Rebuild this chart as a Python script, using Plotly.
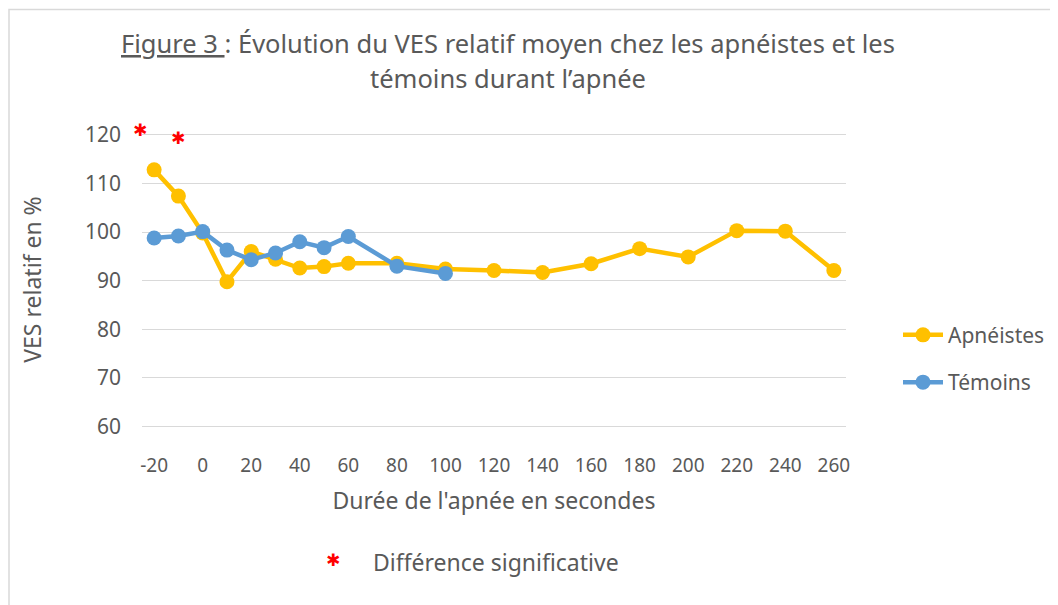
import plotly.graph_objects as go

# ---- data ----
x_apneistes = [-20, -10, 0, 10, 20, 30, 40, 50, 60, 80, 100, 120, 140, 160, 180, 200, 220, 240, 260]
y_apneistes = [112.8, 107.4, 99.8, 89.8, 96.0, 94.4, 92.6, 92.9, 93.6, 93.6, 92.4, 92.1, 91.7, 93.5, 96.6, 94.9, 100.3, 100.2, 92.1]
x_temoins = [-20, -10, 0, 10, 20, 30, 40, 50, 60, 80, 100]
y_temoins = [98.8, 99.2, 100.1, 96.3, 94.3, 95.7, 98.0, 96.8, 99.1, 93.0, 91.5]
x_signif = [-25.8, -10]
y_signif = [121.0, 119.4]
x_ticks = list(range(-20, 261, 20))
y_ticks = list(range(60, 121, 10))

YELLOW = "#FFC000"
BLUE = "#5B9BD5"
GREY_TXT = "#595959"
FONT = "Noto Sans"

X_RANGE = [-25, 265]
Y_RANGE = [59.5, 121]

fig = go.Figure()
fig.add_trace(go.Scatter(x=x_apneistes, y=y_apneistes, name="Apnéistes", mode="lines+markers",
                         line=dict(color=YELLOW, width=4.5), marker=dict(color=YELLOW, size=15),
                         legendgroup="a", cliponaxis=False))
fig.add_trace(go.Scatter(x=x_temoins, y=y_temoins, name="Témoins", mode="lines+markers",
                         line=dict(color=BLUE, width=4.5), marker=dict(color=BLUE, size=15),
                         legendgroup="b", cliponaxis=False))

# page offset of the figure inside the browser window (default body margin)
OFF = 8
W, H = 1050, 597
PX_PER_UNIT = 292 / 60
L, R = 134, 212
T = 127 - (Y_RANGE[1] - 120) * PX_PER_UNIT
B = H - (419 + (60 - Y_RANGE[0]) * PX_PER_UNIT)
pw, ph = W - L - R, H - T - B


def px(xp):
    """window pixel x -> paper x"""
    return ((xp - OFF) - L) / pw


def py(yp):
    """window pixel y -> paper y"""
    return (H - B - (yp - OFF)) / ph


def dx(v):
    return (v - X_RANGE[0]) / (X_RANGE[1] - X_RANGE[0])


def dy(v):
    return (v - Y_RANGE[0]) / (Y_RANGE[1] - Y_RANGE[0])


fig.update_layout(
    width=W, height=H,
    margin=dict(l=L, r=R, t=T, b=B, autoexpand=False),
    paper_bgcolor="white", plot_bgcolor="white",
    font=dict(family=FONT, color=GREY_TXT, size=19),
    showlegend=True,
    legend=dict(x=px(898), y=py(315), xanchor="left", yanchor="top",
                font=dict(size=21, color=GREY_TXT, family=FONT),
                tracegroupgap=17, bgcolor="rgba(0,0,0,0)", itemwidth=40),
    xaxis=dict(range=X_RANGE, tickvals=x_ticks, ticktext=[str(v) for v in x_ticks],
               showgrid=False, zeroline=False, showline=False, ticks="",
               ticklabelstandoff=23, tickfont=dict(size=19, color=GREY_TXT),
               title=dict(text="Durée de l'apnée en secondes", standoff=15,
                          font=dict(size=23, color=GREY_TXT))),
    yaxis=dict(range=Y_RANGE, tickvals=y_ticks, showgrid=True, gridcolor="#D9D9D9", gridwidth=1.3,
               zeroline=False, showline=False, ticks="", ticklabelstandoff=20,
               tickfont=dict(size=21, color=GREY_TXT),
               title=dict(text="VES relatif en %", standoff=36, font=dict(size=23, color=GREY_TXT))),
)

# white boxes behind the asterisks interrupt the top gridline
fig.add_shape(type="rect", xref="paper", yref="paper", x0=px(138), x1=px(154), y0=py(131), y1=py(139),
              fillcolor="white", line=dict(width=0), layer="between")
fig.add_shape(type="rect", xref="paper", yref="paper", x0=px(162), x1=px(196), y0=py(131), y1=py(139),
              fillcolor="white", line=dict(width=0), layer="between")

# significance asterisks (placed from data values, outside the axis range)
for xv, yv in zip(x_signif, y_signif):
    fig.add_annotation(xref="paper", yref="paper", x=dx(xv), y=dy(yv), xanchor="center", yanchor="middle",
                       text="✱", showarrow=False, font=dict(size=17, color="#FF0000", family="DejaVu Sans"))

# chart border
fig.add_shape(type="rect", xref="paper", yref="paper", x0=px(9), x1=px(1080), y0=py(650), y1=py(9.5),
              line=dict(color="#D9D9D9", width=1.5), fillcolor="rgba(0,0,0,0)", layer="above")

# title
fig.add_annotation(xref="paper", yref="paper", x=px(508), y=py(43), xanchor="center", yanchor="middle",
                   text="<u>Figure 3 </u>: Évolution du VES relatif moyen chez les apnéistes et les",
                   showarrow=False, font=dict(size=25.5, color=GREY_TXT, family=FONT))
fig.add_annotation(xref="paper", yref="paper", x=px(508), y=py(78), xanchor="center", yanchor="middle",
                   text="témoins durant l’apnée",
                   showarrow=False, font=dict(size=25.5, color=GREY_TXT, family=FONT))

# bottom note
fig.add_annotation(xref="paper", yref="paper", x=px(333), y=py(561), xanchor="center", yanchor="middle",
                   text="✱", showarrow=False, font=dict(size=17, color="#FF0000", family="DejaVu Sans"))
fig.add_annotation(xref="paper", yref="paper", x=px(371), y=py(563), xanchor="left", yanchor="middle",
                   text="Différence significative", showarrow=False,
                   font=dict(size=23, color=GREY_TXT, family=FONT))

fig.write_html("out.html")
